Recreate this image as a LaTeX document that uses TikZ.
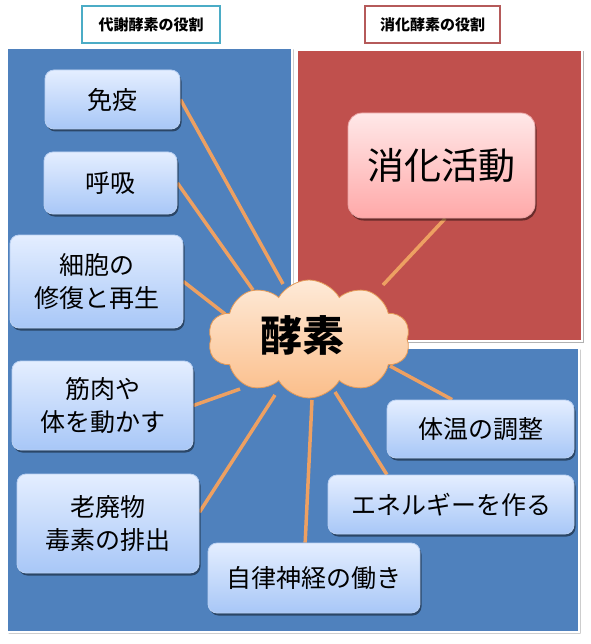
\documentclass[tikz,border=0pt]{standalone}
\usepackage{fontspec}
\setmainfont{Noto Sans CJK JP}
\usetikzlibrary{shapes.symbols,shadows,calc}
\pgfdeclarelayer{back}
\pgfdeclarelayer{links}
\pgfsetlayers{back,links,main}
\definecolor{panelblue}{HTML}{4F81BD}
\definecolor{panelred}{HTML}{C0504D}
\definecolor{tealc}{HTML}{4BACC6}
\definecolor{titlered}{HTML}{B55A5A}
\definecolor{linkc}{HTML}{EDA062}
\definecolor{boxtop}{HTML}{E4EEFF}
\definecolor{boxbot}{HTML}{A8C7F7}
\definecolor{boxedge}{HTML}{B9D0F2}
\definecolor{pinktop}{HTML}{FFE8E8}
\definecolor{pinkbot}{HTML}{FFA9A9}
\definecolor{pinkedge}{HTML}{E9A3A3}
\definecolor{cloudtop}{HTML}{FEEAD8}
\definecolor{cloudbot}{HTML}{FBBE8A}
\definecolor{cloudedge}{HTML}{E49A58}
\begin{document}
\begin{tikzpicture}[x=1pt,y=-1pt,
  panel/.style={draw=white, line width=2.5pt,
    drop shadow={shadow xshift=1.5pt, shadow yshift=-1.5pt, opacity=0.3, fill=black}},
  titlebox/.style={fill=white, line width=2.5pt, minimum height=37pt, inner sep=0pt,
    font=\fontsize{15}{18}\selectfont\bfseries,
    drop shadow={shadow xshift=1pt, shadow yshift=-1pt, opacity=0.25, fill=black}},
  bluebox/.style={rounded corners=9pt, top color=boxtop, bottom color=boxbot,
    draw=boxedge, line width=0.8pt, inner sep=0pt, align=center,
    font=\fontsize{25}{33}\selectfont,
    drop shadow={shadow xshift=1.5pt, shadow yshift=-2.5pt, opacity=0.45, fill=black}},
  pinkbox/.style={rounded corners=14pt, top color=pinktop, bottom color=pinkbot,
    draw=pinkedge, line width=0.8pt, inner sep=0pt, align=center,
    font=\fontsize{37}{44}\selectfont,
    drop shadow={shadow xshift=1.5pt, shadow yshift=-2.5pt, opacity=0.45, fill=black}},
  link/.style={draw=linkc, line width=3.5pt},
  enzcloud/.style={cloud, cloud puffs=10, cloud puff arc=120, aspect=1.75,
    minimum width=202pt, minimum height=118pt, inner sep=0pt,
    top color=cloudtop, bottom color=cloudbot, draw=cloudedge, line width=0.8pt}
]
\begin{pgfonlayer}{back}
\useasboundingbox (0,0) rectangle (590,644);
\fill[white] (0,0) rectangle (590,644);
% panels
\draw[panel, fill=panelblue] (7,48) -- (292,48) -- (292,348) -- (579,348) -- (579,632) -- (7,632) -- cycle;
\draw[panel, fill=panelred] (297,50) rectangle (582,341);
\end{pgfonlayer}

% titles
\node[titlebox, draw=tealc, minimum width=138pt] (t1) at (151,24.5) {代謝酵素の役割};
\node[titlebox, draw=titlered, minimum width=135pt] (t2) at (432.5,24.5) {消化酵素の役割};

% boxes
\node[bluebox, minimum width=135pt, minimum height=59pt] (menneki) at (112.5,99.5) {免疫};
\node[bluebox, minimum width=133pt, minimum height=62pt] (kokyu) at (110.5,183) {呼吸};
\node[bluebox, minimum width=173pt, minimum height=93pt] (saibo) at (96.5,281.5) {細胞の\\修復と再生};
\node[bluebox, minimum width=181pt, minimum height=89pt] (kinniku) at (102.5,405.5) {筋肉や\\体を動かす};
\node[bluebox, minimum width=182pt, minimum height=99pt] (rohai) at (108,523.5) {老廃物\\毒素の排出};
\node[bluebox, minimum width=212pt, minimum height=70pt] (jiritsu) at (314,578) {自律神経の働き};
\node[bluebox, minimum width=187pt, minimum height=58pt] (taion) at (480.5,429) {体温の調整};
\node[bluebox, minimum width=246pt, minimum height=59pt] (energy) at (451,504.5) {エネルギーを作る};
\node[pinkbox, minimum width=187pt, minimum height=105pt] (shoka) at (441.5,165.5) {消化活動};

% central cloud
\node[enzcloud] (enzyme) at (309,339) {};
\node[font=\fontsize{42}{48}\selectfont\bfseries, inner sep=0pt] (enztext) at (302,335) {酵素};

% cloud-side ends of the connectors
\coordinate (e1) at (283,284);
\coordinate (e2) at (253,290);
\coordinate (e3) at (225,314);
\coordinate (e4) at (240,389);
\coordinate (e5) at (275,395);
\coordinate (e6) at (312,400);
\coordinate (e7) at (335,392);
\coordinate (e8) at (390,366);
\coordinate (e9) at (383,285);

% connectors, behind boxes and cloud
\begin{pgfonlayer}{links}
\draw[link] (menneki.east) -- (e1);
\draw[link] (kokyu.east) -- (e2);
\draw[link] (saibo.east) -- (e3);
\draw[link] (kinniku.east) -- (e4);
\draw[link] (rohai.7) -- (e5);
\draw[link] (jiritsu.104) -- (e6);
\draw[link] (energy.155) -- (e7);
\draw[link] (taion.134) -- (e8);
\draw[link] (shoka.-86) -- (e9);
\end{pgfonlayer}
\end{tikzpicture}
\end{document}
